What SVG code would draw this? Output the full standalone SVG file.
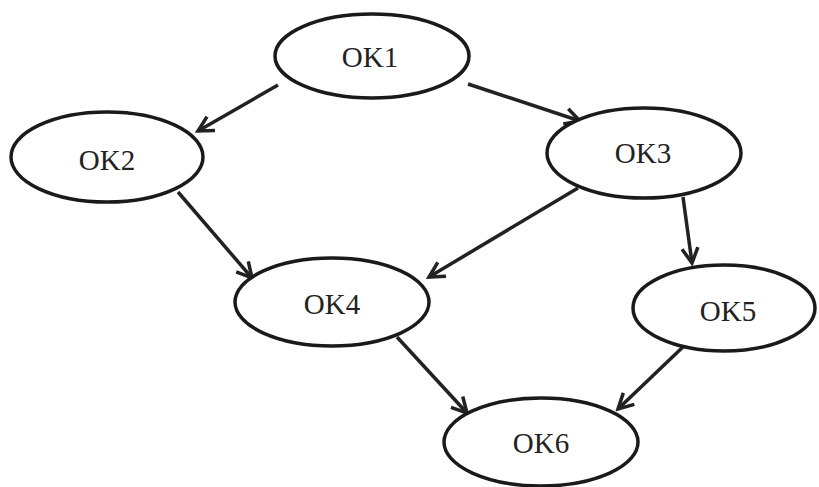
<svg xmlns="http://www.w3.org/2000/svg" width="819" height="487" viewBox="0 0 819 487">
<style>
.node ellipse{fill:#fff;stroke:#1a1a1a;stroke-width:3.5}
.node text{font-family:"Liberation Serif","Times New Roman",serif;font-size:29px;fill:#222;text-anchor:middle}
.edge{stroke:#222;stroke-width:3.5;fill:none;marker-end:url(#arr)}
</style>
<defs>
<marker id="arr" markerUnits="userSpaceOnUse" markerWidth="22" markerHeight="22" viewBox="0 0 22 22" refX="19" refY="11" orient="auto">
<path d="M4,3 L19,11 L4,19" fill="none" stroke="#222" stroke-width="3.5" stroke-linejoin="miter"/>
</marker>
</defs>
<rect width="819" height="487" fill="#fff"/>
<g id="connectors">
<line class="edge" x1="278" y1="85" x2="198" y2="131"/>
<line class="edge" x1="468" y1="84" x2="580" y2="121"/>
<line class="edge" x1="178" y1="192" x2="252" y2="278"/>
<line class="edge" x1="578" y1="188" x2="429" y2="277"/>
<line class="edge" x1="683" y1="197" x2="692" y2="263"/>
<line class="edge" x1="397" y1="337" x2="467" y2="413"/>
<line class="edge" x1="685" y1="345" x2="618" y2="409"/>
</g>
<g id="OK1" class="node"><ellipse cx="372" cy="56" rx="97" ry="42"/><text x="370" y="67">OK1</text></g>
<g id="OK2" class="node"><ellipse cx="107" cy="157" rx="96" ry="45"/><text x="107" y="170">OK2</text></g>
<g id="OK3" class="node"><ellipse cx="644" cy="153" rx="97" ry="45"/><text x="643" y="163">OK3</text></g>
<g id="OK4" class="node"><ellipse cx="332" cy="302" rx="97" ry="44"/><text x="332" y="314">OK4</text></g>
<g id="OK5" class="node"><ellipse cx="724" cy="308" rx="91" ry="43"/><text x="728" y="321">OK5</text></g>
<g id="OK6" class="node"><ellipse cx="541" cy="442" rx="97" ry="44"/><text x="541" y="453">OK6</text></g>
</svg>
